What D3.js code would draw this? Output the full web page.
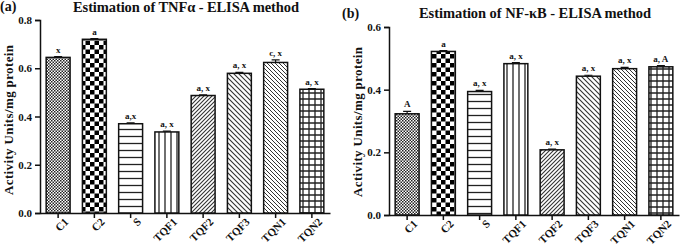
<!DOCTYPE html>
<html>
<head>
<meta charset="utf-8">
<script src="https://cdn.jsdelivr.net/npm/d3@7"></script>
<style>
  body { margin: 0; background: #fff; }
  text { font-family: "Liberation Serif", "DejaVu Serif", serif; font-weight: bold; fill: #111; }
  .domain, .tick line { stroke: #111; stroke-width: 1.5; }
</style>
</head>
<body>
<div class="container"></div>
<script>
const WIDTH = 680;
const HEIGHT = 250;

// data
var groups = ['C1', 'C2', 'S', 'TQF1', 'TQF2', 'TQF3', 'TQN1', 'TQN2'];
var tnfValues = [0.645, 0.72, 0.37, 0.336, 0.487, 0.579, 0.624, 0.513];
var tnfErrors = [0.003, 0.003, 0.004, 0.003, 0.003, 0.004, 0.011, 0.003];
var tnfLabels = ['x', 'a', 'a,x', 'a, x', 'a, x', 'a, x', 'c, x', 'a, x'];
var nfkbValues = [0.323, 0.522, 0.394, 0.483, 0.208, 0.443, 0.467, 0.473];
var nfkbErrors = [0.008, 0.003, 0.004, 0.003, 0.002, 0.003, 0.004, 0.004];
var nfkbLabels = ['A', 'a', 'a, x', 'a, x', 'a, x', 'a, x', 'a, x', 'a, A'];
var tnfTicks = [0.0, 0.2, 0.4, 0.6, 0.8];
var nfkbTicks = [0.0, 0.2, 0.4, 0.6];
var patterns = ['fine', 'check', 'hlines', 'vlines', 'diagR', 'diagL', 'diagL2', 'grid'];

var svg = d3.select('.container').append('svg')
  .attr('width', WIDTH)
  .attr('height', HEIGHT);

var defs = svg.append('defs');

function addPattern(id, size, draw) {
  var p = defs.append('pattern')
    .attr('id', id)
    .attr('patternUnits', 'userSpaceOnUse')
    .attr('width', size)
    .attr('height', size);
  p.append('rect').attr('width', size).attr('height', size).attr('fill', '#fff');
  draw(p);
}

addPattern('fine', 3, function (p) {
  p.append('rect').attr('width', 1.5).attr('height', 1.5).attr('fill', '#222');
  p.append('rect').attr('x', 1.5).attr('y', 1.5).attr('width', 1.5).attr('height', 1.5).attr('fill', '#222');
});
addPattern('check', 9, function (p) {
  p.append('rect').attr('width', 4.5).attr('height', 4.5).attr('fill', '#000');
  p.append('rect').attr('x', 4.5).attr('y', 4.5).attr('width', 4.5).attr('height', 4.5).attr('fill', '#000');
});
addPattern('hlines', 7, function (p) {
  p.append('line').attr('x1', 0).attr('x2', 7).attr('y1', 3.5).attr('y2', 3.5)
    .attr('stroke', '#222').attr('stroke-width', 1.3);
});
addPattern('vlines', 6, function (p) {
  p.append('line').attr('y1', 0).attr('y2', 6).attr('x1', 3).attr('x2', 3)
    .attr('stroke', '#222').attr('stroke-width', 1.3);
});
addPattern('diagR', 4, function (p) {
  p.append('path').attr('d', 'M-1,1 L1,-1 M0,4 L4,0 M3,5 L5,3')
    .attr('stroke', '#333').attr('stroke-width', 1.1);
});
addPattern('diagL', 5, function (p) {
  p.append('path').attr('d', 'M-1,4 L1,6 M0,0 L5,5 M4,-1 L6,1')
    .attr('stroke', '#333').attr('stroke-width', 1.1);
});
addPattern('diagL2', 4, function (p) {
  p.append('path').attr('d', 'M-1,3 L1,5 M0,0 L4,4 M3,-1 L5,1')
    .attr('stroke', '#333').attr('stroke-width', 1);
});
addPattern('grid', 6, function (p) {
  p.append('path').attr('d', 'M0,3 L6,3 M3,0 L3,6')
    .attr('stroke', '#222').attr('stroke-width', 1.3);
});

function drawPanel(args) {
  var g = svg.append('g');

  var x = d3.scaleBand()
    .domain(groups)
    .range([args.left, args.right])
    .paddingInner(0.34)
    .paddingOuter(0.17);

  var y = d3.scaleLinear()
    .domain([0, args.max])
    .range([args.bottom, args.top]);

  g.append('g')
    .attr('transform', 'translate(' + args.left + ',0)')
    .call(d3.axisLeft(y).tickValues(args.ticks).tickFormat(d3.format('.1f')).tickSize(5))
    .call(function (a) { a.selectAll('text').style('font-size', '11px'); });

  var xAxis = g.append('g')
    .attr('transform', 'translate(0,' + args.bottom + ')')
    .call(d3.axisBottom(x).tickSize(5).tickSizeOuter(0));
  xAxis.selectAll('text')
    .style('font-size', '11px')
    .attr('text-anchor', 'end')
    .attr('dx', '0.1em')
    .attr('dy', '0.6em')
    .attr('transform', 'rotate(-45)');

  var data = groups.map(function (d, i) {
    return { name: d, value: args.values[i], err: args.errors[i], label: args.labels[i], pat: patterns[i] };
  });

  var bars = g.selectAll('.bar').data(data).enter().append('g');

  bars.append('rect')
    .attr('x', function (d) { return x(d.name); })
    .attr('y', function (d) { return y(d.value); })
    .attr('width', x.bandwidth())
    .attr('height', function (d) { return args.bottom - y(d.value); })
    .attr('fill', function (d) { return 'url(#' + d.pat + ')'; })
    .attr('stroke', '#111')
    .attr('stroke-width', 1.5);

  bars.append('path')
    .attr('d', function (d) {
      var cx = x(d.name) + x.bandwidth() / 2;
      var top = y(d.value + d.err);
      return 'M' + cx + ',' + y(d.value) + 'V' + top + 'M' + (cx - 4) + ',' + top + 'H' + (cx + 4);
    })
    .attr('stroke', '#111')
    .attr('stroke-width', 1.2)
    .attr('fill', 'none');

  bars.append('text')
    .attr('x', function (d) { return x(d.name) + x.bandwidth() / 2; })
    .attr('y', function (d) { return y(d.value + d.err) - 4; })
    .attr('text-anchor', 'middle')
    .style('font-size', '9px')
    .text(function (d) { return d.label; });

  svg.append('text')
    .attr('x', args.panelX)
    .attr('y', args.panelY)
    .style('font-size', '14px')
    .text(args.panel);

  svg.append('text')
    .attr('x', args.titleX)
    .attr('y', args.titleY)
    .attr('text-anchor', 'middle')
    .attr('textLength', args.titleWidth)
    .attr('lengthAdjust', 'spacing')
    .style('font-size', '14.5px')
    .text(args.title);

  svg.append('text')
    .attr('transform', 'translate(' + args.yLabelX + ',' + args.yLabelY + ') rotate(-90)')
    .attr('text-anchor', 'middle')
    .attr('textLength', 150)
    .attr('lengthAdjust', 'spacing')
    .style('font-size', '13px')
    .text('Activity Units/mg protein');
}

drawPanel({
  left: 40, right: 330, top: 20, bottom: 213, max: 0.8,
  ticks: tnfTicks, values: tnfValues, errors: tnfErrors, labels: tnfLabels,
  panel: '(a)', panelX: 0, panelY: 11, titleX: 186, titleY: 12, titleWidth: 226,
  yLabelX: 13, yLabelY: 120,
  title: 'Estimation of TNF\u03b1 - ELISA method'
});

drawPanel({
  left: 389, right: 679, top: 27, bottom: 215, max: 0.6,
  ticks: nfkbTicks, values: nfkbValues, errors: nfkbErrors, labels: nfkbLabels,
  panel: '(b)', panelX: 342, panelY: 18, titleX: 535, titleY: 18, titleWidth: 232,
  yLabelX: 362, yLabelY: 122,
  title: 'Estimation of NF-\u03baB - ELISA method'
});
</script>
</body>
</html>
